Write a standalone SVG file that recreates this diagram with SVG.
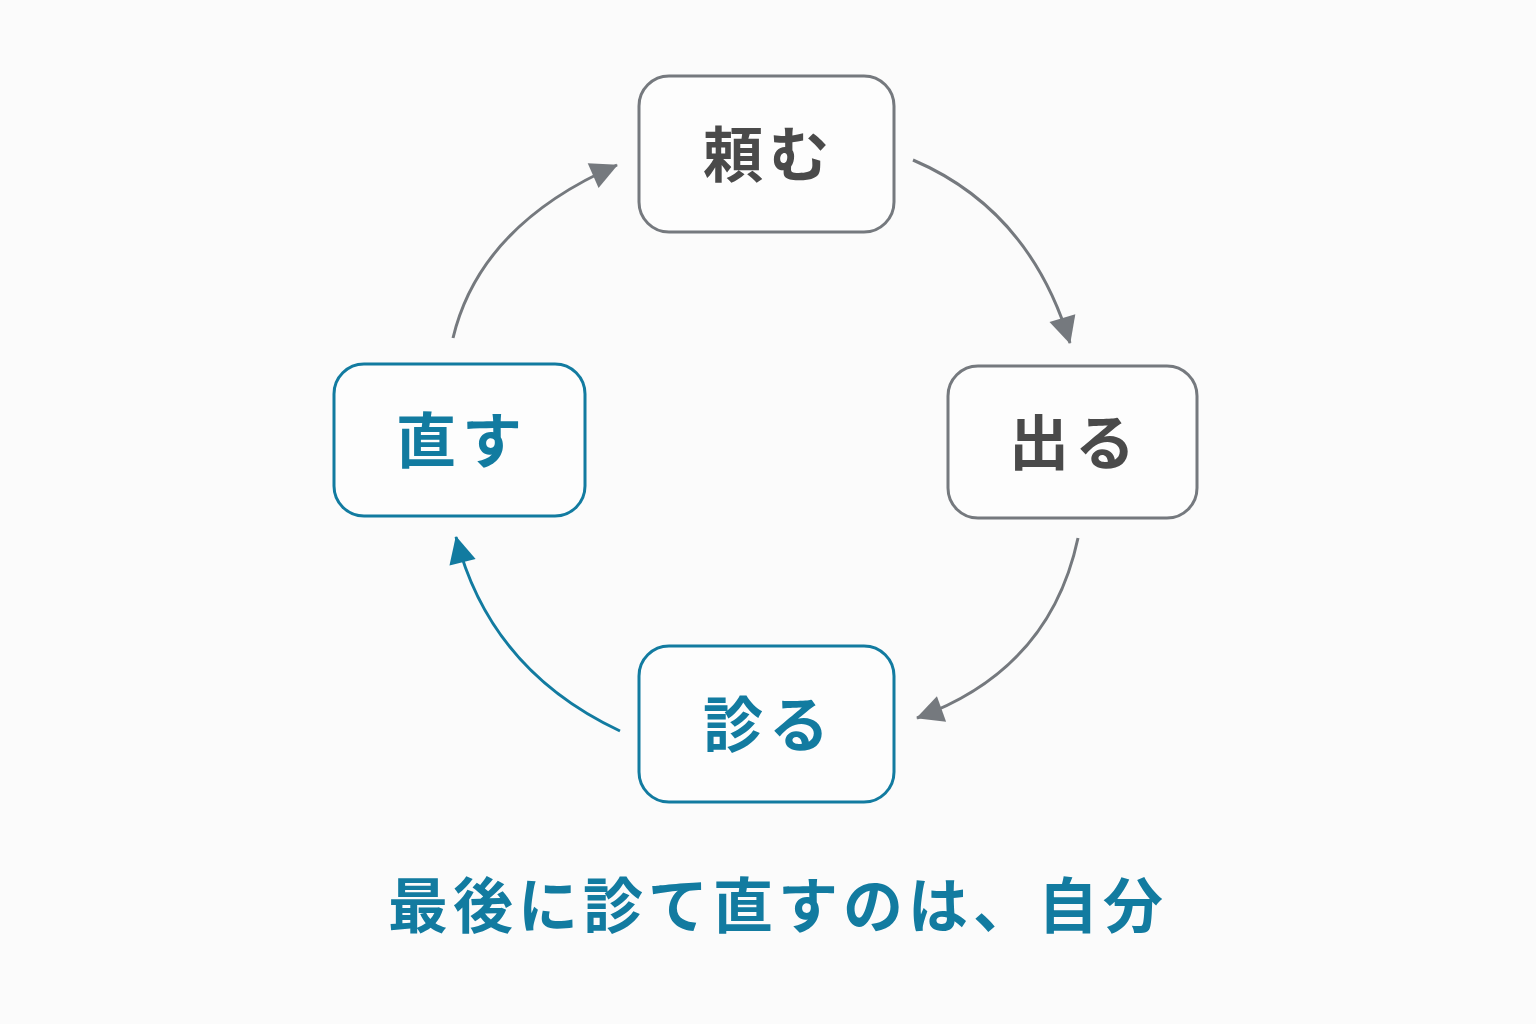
<svg xmlns="http://www.w3.org/2000/svg" width="1536" height="1024" viewBox="0 0 1536 1024">
<defs>
<style>
.g rect{fill:#fdfdfd;stroke:#75797e;stroke-width:3}
.b rect{fill:#fdfdfd;stroke:#127ba0;stroke-width:3}
text{font-family:"Noto Sans CJK JP",sans-serif;font-weight:700;text-anchor:middle;letter-spacing:6px}
.g text{fill:#4a4a4a;font-size:60px}
.b text{fill:#127ba0;font-size:60px}
.cg{fill:none;stroke:#75797e;stroke-width:3}
.cb{fill:none;stroke:#127ba0;stroke-width:3}
</style>
<marker id="ag" viewBox="0 0 10 10" refX="8" refY="5" markerWidth="9" markerHeight="9" markerUnits="userSpaceOnUse" orient="auto" style="overflow:visible"><path d="M0,0 L10,5 L0,10 Z" fill="#75797e" transform="scale(3) translate(-7,-3.3)"/></marker>
<marker id="ab" viewBox="0 0 10 10" refX="8" refY="5" markerWidth="9" markerHeight="9" markerUnits="userSpaceOnUse" orient="auto" style="overflow:visible"><path d="M0,0 L10,5 L0,10 Z" fill="#127ba0" transform="scale(3) translate(-7,-3.3)"/></marker>
</defs>
<rect width="1536" height="1024" fill="#fbfbfb"/>
<g id="connectors">
<path class="cg" d="M913,160 Q1030,210 1070,343" marker-end="url(#ag)"/>
<path class="cg" d="M1078,538 Q1050,670 917,718" marker-end="url(#ag)"/>
<path class="cb" d="M620,731 Q490,670 456,537" marker-end="url(#ab)"/>
<path class="cg" d="M453,338 Q480,225 617,165" marker-end="url(#ag)"/>
</g>
<g id="n1" class="g"><rect x="639" y="76" width="255" height="156" rx="30"/><text x="769" y="177">頼む</text></g>
<g id="n2" class="g"><rect x="948" y="366" width="249" height="152" rx="30"/><text x="1075" y="465">出る</text></g>
<g id="n3" class="b"><rect x="639" y="646" width="255" height="156" rx="30"/><text x="769" y="747">診る</text></g>
<g id="n4" class="b"><rect x="334" y="364" width="251" height="152" rx="30"/><text x="462" y="463">直す</text></g>
<text x="778" y="928" font-size="60" fill="#127ba0" style="letter-spacing:5px">最後に診て直すのは、自分</text>
</svg>
